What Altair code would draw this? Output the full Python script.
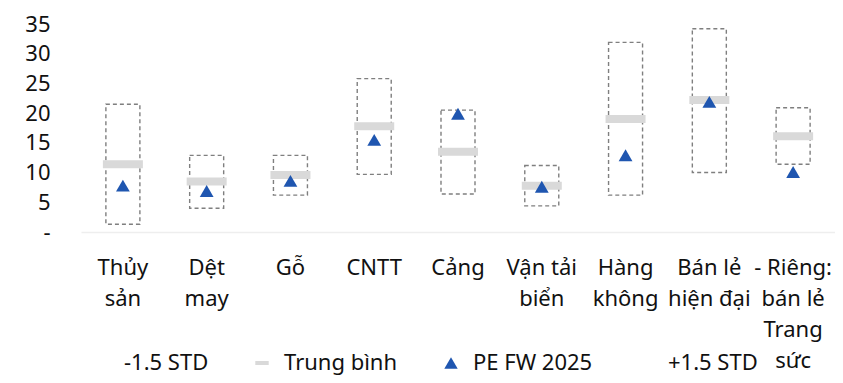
import altair as alt
import pandas as pd

categories = ["Thủy\nsản", "Dệt\nmay", "Gỗ", "CNTT", "Cảng", "Vận tải\nbiển",
              "Hàng\nkhông", "Bán lẻ\nhiện đại", "- Riêng:\nbán lẻ\nTrang\nsức"]
low_std = [1.3, 4.0, 6.2, 9.7, 6.4, 4.4, 6.2, 10.0, 11.4]
high_std = [21.5, 12.9, 12.9, 25.8, 20.5, 11.2, 31.9, 34.2, 20.9]
mean_pe = [11.4, 8.5, 9.6, 17.8, 13.5, 7.8, 19.0, 22.2, 16.1]
pe_fw_2025 = [7.8, 6.9, 8.6, 15.5, 19.9, 7.6, 12.9, 21.9, 10.1]
y_ticks = [0, 5, 10, 15, 20, 25, 30, 35]
legend_items = ["-1.5 STD", "Trung bình", "PE FW 2025", "+1.5 STD"]

df = pd.DataFrame({
    "cat": categories,
    "low": low_std,
    "high": high_std,
    "mean": mean_pe,
    "pe": pe_fw_2025,
    "series": "PE FW 2025",
})

FONT = "Noto Sans"

x_axis = alt.Axis(
    labelAngle=0, ticks=False, domainColor="#eeeeee", domainWidth=1.5,
    labelPadding=25, labelFontSize=22, labelFont=FONT, labelColor="#111111",
    labelExpr="split(datum.value, '\\n')", labelLineHeight=31,
    labelOverlap=False, labelLimit=0, labelBaseline="top",
)
x_scale = alt.Scale(paddingInner=0, paddingOuter=0)
y_scale = alt.Scale(domain=[0, 35], nice=False)
y_axis = alt.Axis(
    values=y_ticks, domain=False, ticks=False, tickSize=0, grid=False,
    labelPadding=31, labelFontSize=22, labelFont=FONT, labelColor="#111111",
    labelOverlap=False, labelFlush=False, labelBound=False,
    labelExpr="datum.value == 0 ? '-' : datum.label",
)


def xe():
    return alt.X("cat:N", sort=None, title=None, scale=x_scale, axis=x_axis)


def ye(field):
    return alt.Y(field, scale=y_scale, axis=y_axis, title=None)


base = alt.Chart(df)

boxes = base.mark_bar(
    width=34, fill="transparent", stroke="#7f7f7f", strokeWidth=1.4,
    strokeDash=[4, 3],
).encode(
    x=xe(),
    y=ye("low:Q"),
    y2="high:Q",
)

means = base.mark_tick(color="#d9d9d9", size=40, thickness=8, opacity=1).encode(
    x=xe(),
    y=ye("mean:Q"),
)

legend_cfg = dict(
    title=None, orient="none", direction="horizontal",
    legendX=10, legendY=328, columnPadding=42, labelOffset=11,
    labelFontSize=22, labelFont=FONT, labelColor="#111111",
    symbolSize=180, symbolStrokeWidth=0, labelLimit=0,
)

points = base.mark_point(filled=True, size=190, opacity=1).encode(
    x=xe(),
    y=ye("pe:Q"),
    color=alt.Color(
        "series:N",
        scale=alt.Scale(domain=legend_items,
                        range=["transparent", "#d9d9d9", "#1f56b0", "transparent"]),
        legend=alt.Legend(**legend_cfg),
    ),
    shape=alt.Shape(
        "series:N",
        scale=alt.Scale(domain=legend_items,
                        range=["square", "M-1,-0.3H1V0.3H-1Z", "triangle-up", "square"]),
        legend=alt.Legend(**legend_cfg),
    ),
)

chart = alt.layer(boxes, means, points).properties(
    width=754, height=208,
    autosize=alt.AutoSizeParams(type="none"),
    padding={"left": 73, "top": 16, "right": 0, "bottom": 143},
    background="white",
).configure_view(stroke=None)

chart.save("out.html", embed_options={"renderer": "svg", "actions": False})
